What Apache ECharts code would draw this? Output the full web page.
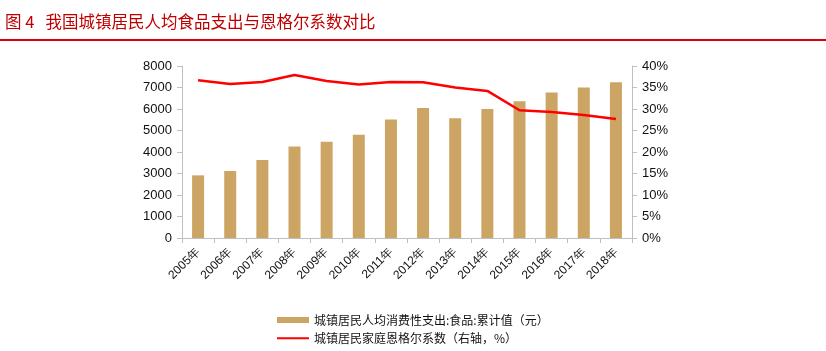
<!DOCTYPE html>
<html>
<head>
<meta charset="utf-8">
<script src="https://cdn.jsdelivr.net/npm/echarts@6/dist/echarts.min.js"></script>
<style>
  html, body { margin: 0; padding: 0; background: #fff; }
  #chart { width: 826px; height: 351px; }
</style>
</head>
<body>
<div id="chart"></div>
<script>
const years = ['2005年', '2006年', '2007年', '2008年', '2009年', '2010年', '2011年',
  '2012年', '2013年', '2014年', '2015年', '2016年', '2017年', '2018年']
const foodSpend = [2914, 3112, 3628, 4260, 4479, 4805, 5506, 6041, 5571, 6000, 6360, 6762, 7001, 7239]
const engel = [36.7, 35.8, 36.3, 37.9, 36.5, 35.7, 36.3, 36.2, 35.0, 34.2, 29.7, 29.3, 28.6, 27.7]

const barName = '城镇居民人均消费性支出:食品:累计值（元）'
const lineName = '城镇居民家庭恩格尔系数（右轴，%）'

const chart = echarts.init(document.getElementById('chart'))

const axisLine = { show: true, lineStyle: { color: '#bfbfbf', width: 1 } }
const labelFont = { color: '#111', fontSize: 13, fontFamily: 'Liberation Sans, Arial' }

// thin line icon for the legend, padded to the same box as the bar icon
const lineIcon = 'path://M0,0h0.01v0.01h-0.01z M0,2.3h32v2h-32z M0,6h0.01v0.01h-0.01z'

chart.setOption({
  animation: false,
  title: {
    text: '图 4   我国城镇居民人均食品支出与恩格尔系数对比',
    left: 0,
    top: 8,
    textStyle: { color: '#c00000', fontSize: 16.5, fontWeight: 'normal', fontFamily: 'Noto Sans CJK SC' }
  },
  graphic: [{
    type: 'rect',
    shape: { x: 0, y: 39, width: 826, height: 2 },
    style: { fill: '#d9000d' }
  }],
  legend: {
    orient: 'vertical',
    left: 272,
    top: 309,
    itemGap: 6,
    itemWidth: 32,
    itemHeight: 6,
    textStyle: { color: '#111', fontSize: 12, fontFamily: 'Noto Sans CJK SC' },
    data: [
      { name: barName, icon: 'rect' },
      { name: lineName, icon: lineIcon, itemStyle: { color: '#ff0000' } }
    ]
  },
  grid: { left: 182, right: 194, top: 66, bottom: 113, containLabel: false },
  xAxis: {
    type: 'category',
    data: years,
    axisLine: axisLine,
    axisTick: { show: true, alignWithLabel: false, lineStyle: { color: '#bfbfbf' } },
    axisLabel: { rotate: 45, interval: 0, color: '#111', fontSize: 12, fontFamily: 'Liberation Sans, Arial', margin: 12 }
  },
  yAxis: [
    {
      type: 'value',
      min: 0, max: 8000, interval: 1000,
      axisLine: axisLine,
      axisTick: { show: true, lineStyle: { color: '#bfbfbf' } },
      splitLine: { show: false },
      axisLabel: Object.assign({ margin: 10, formatter: v => String(v) }, labelFont)
    },
    {
      type: 'value',
      min: 0, max: 40, interval: 5,
      position: 'right',
      axisLine: axisLine,
      axisTick: { show: true, lineStyle: { color: '#bfbfbf' } },
      splitLine: { show: false },
      axisLabel: Object.assign({ margin: 10, formatter: '{value}%' }, labelFont)
    }
  ],
  series: [
    {
      name: barName,
      type: 'bar',
      data: foodSpend,
      barWidth: 12,
      itemStyle: { color: '#cca564' }
    },
    {
      name: lineName,
      type: 'line',
      yAxisIndex: 1,
      data: engel,
      symbol: 'none',
      lineStyle: { color: '#ff0000', width: 2.5 },
      itemStyle: { color: '#ff0000' }
    }
  ]
})
</script>
</body>
</html>
